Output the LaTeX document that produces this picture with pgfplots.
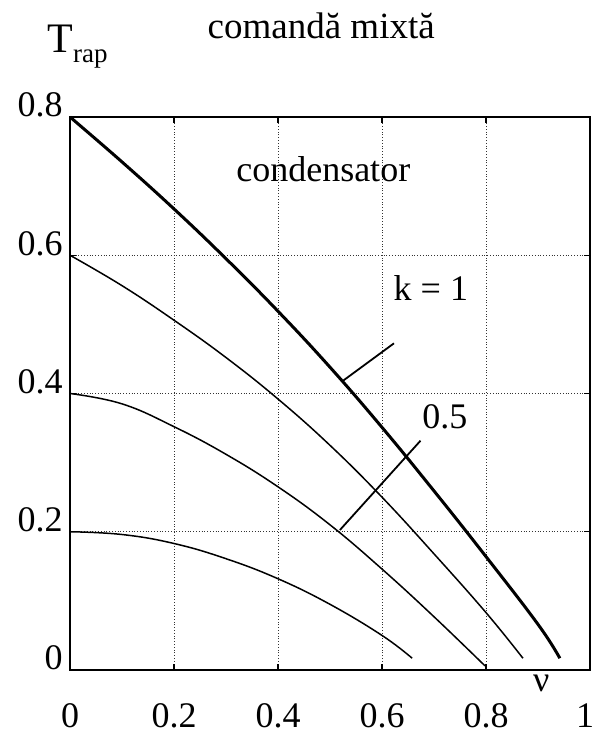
\documentclass[border=0pt]{standalone}
\usepackage{pgfplots}
\pgfplotsset{compat=1.18}
\usepackage{fontspec}
\setmainfont{Liberation Serif}

\begin{document}
\begin{tikzpicture}
\begin{axis}[
  scale only axis,
  width=260pt, height=276.5pt,
  xmin=0, xmax=1, ymin=0, ymax=0.8,
  xtick={0,0.2,0.4,0.6,0.8,1},
  ytick={0,0.2,0.4,0.6,0.8},
  xticklabels={0,0.2,0.4,0.6,0.8,\hspace*{-5pt}1},
  yticklabels={0,0.2,0.4,0.6,0.8},
  tick align=inside,
  major tick length=3pt,
  tick style={black, line width=0.6pt},
  grid=major,
  major grid style={black!80, densely dotted, line width=0.45pt},
  axis line style={black, line width=1pt},
  /pgf/number format/assume math mode=true,
  ticklabel style={font=\fontsize{18}{21}\selectfont, inner sep=0pt},
  xticklabel style={anchor=base, yshift=-28.5pt},
  yticklabel style={anchor=base east, xshift=-3.5pt},
  clip=false,
]
% k = 1 (bold)
\addplot[black, line width=1.5pt, smooth, tension=0.7] coordinates {
  (0,0.800) (0.1,0.735) (0.2,0.667) (0.3,0.595) (0.4,0.519)
  (0.5,0.438) (0.6,0.351) (0.7,0.259) (0.8,0.164) (0.9,0.066) (0.942,0.017)};
% starting at 0.6
\addplot[black, line width=0.75pt, smooth, tension=0.7] coordinates {
  (0,0.600) (0.1,0.556) (0.2,0.506) (0.3,0.452) (0.4,0.392)
  (0.5,0.325) (0.6,0.250) (0.7,0.168) (0.8,0.083) (0.871,0.017)};
% starting at 0.4
\addplot[black, line width=0.75pt, smooth, tension=0.7] coordinates {
  (0,0.400) (0.1,0.385) (0.2,0.352) (0.3,0.312) (0.4,0.265)
  (0.5,0.210) (0.6,0.146) (0.7,0.077) (0.798,0.006)};
% starting at 0.2
\addplot[black, line width=0.75pt, smooth, tension=0.7] coordinates {
  (0,0.200) (0.1,0.196) (0.2,0.183) (0.3,0.161)
  (0.4,0.132) (0.5,0.095) (0.6,0.050) (0.658,0.017)};
% leader lines for the curve labels
\addplot[black, line width=0.9pt] coordinates {(0.5224,0.417) (0.623,0.4726)};
\addplot[black, line width=0.9pt] coordinates {(0.519,0.2025) (0.674,0.3317)};

\node[anchor=base, font=\fontsize{18}{21}\selectfont] at (axis cs:0.487,0.706) {condensator};
\node[anchor=base, font=\fontsize{18}{21}\selectfont] at (axis cs:0.694,0.535) {k = 1};
\node[anchor=base, font=\fontsize{18}{21}\selectfont] at (axis cs:0.721,0.349) {0.5};
\node[anchor=base, font=\fontsize{18}{21}\selectfont] at (axis cs:0.906,-0.0318) {ν};
\node[anchor=base, font=\fontsize{18.5}{22}\selectfont] at (axis cs:0.483,0.913) {comandă mixtă};
\node[anchor=base west, inner sep=0pt] at (axis cs:-0.0442,0.8926)
  {{\fontsize{21}{25}\selectfont T}\raisebox{-5pt}{\fontsize{13.5}{16}\selectfont rap}};
\end{axis}
\pgfresetboundingbox
\path[use as bounding box] ([shift={(-35pt,-31pt)}]current axis.south west)
  rectangle ([shift={(3pt,58.5pt)}]current axis.north east);
\end{tikzpicture}
\end{document}
